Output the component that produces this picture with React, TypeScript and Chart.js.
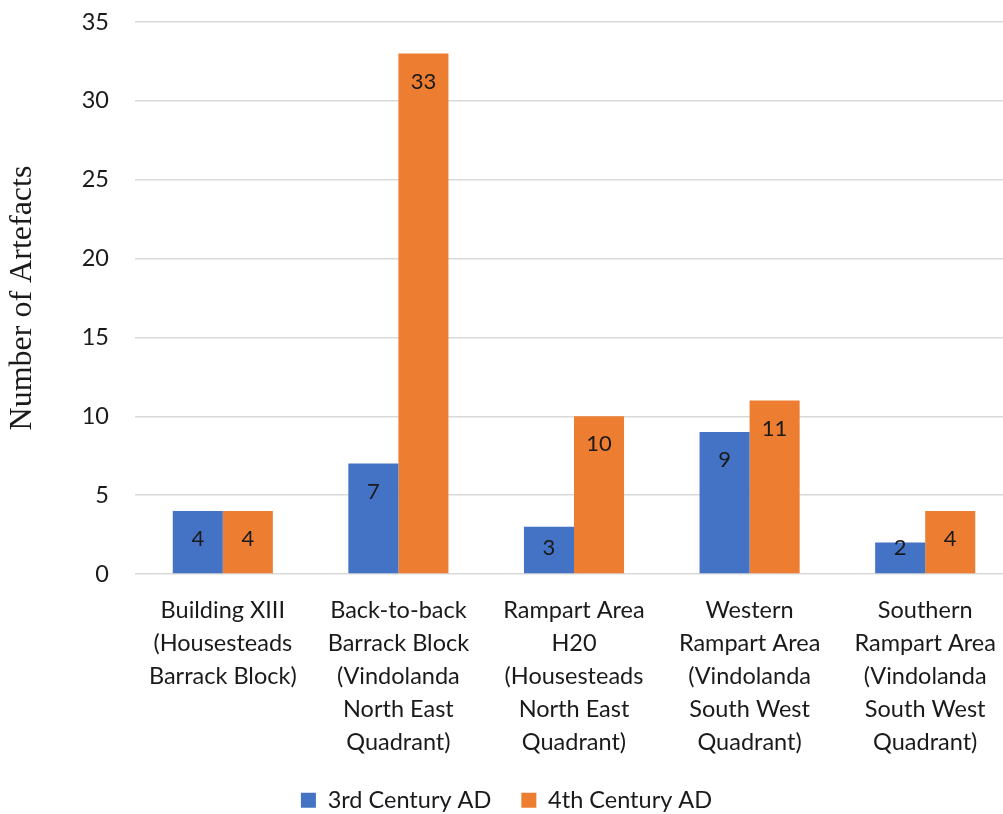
import React, { useEffect, useRef } from "react";
import { Chart, registerables } from "chart.js";

Chart.register(...registerables);

const categories: string[][] = [
  ["Building XIII", "(Housesteads", "Barrack Block)"],
  ["Back-to-back", "Barrack Block", "(Vindolanda", "North East", "Quadrant)"],
  ["Rampart Area", "H20", "(Housesteads", "North East", "Quadrant)"],
  ["Western", "Rampart Area", "(Vindolanda", "South West", "Quadrant)"],
  ["Southern", "Rampart Area", "(Vindolanda", "South West", "Quadrant)"],
];
const seriesNames = ["3rd Century AD", "4th Century AD"];
const thirdCentury = [4, 7, 3, 9, 2];
const fourthCentury = [4, 33, 10, 11, 4];
const yTicks = { min: 0, max: 35, step: 5 };

const SANS = "Lato, 'Noto Sans', sans-serif";
const TEXT = "#1a1a1a";

const labelPlugin = {
  id: "insideEndLabels",
  afterDatasetsDraw(chart: any) {
    const ctx = chart.ctx;
    ctx.save();
    ctx.font = `22px ${SANS}`;
    ctx.fillStyle = TEXT;
    ctx.textAlign = "center";
    ctx.textBaseline = "middle";
    chart.data.datasets.forEach((ds: any, di: number) => {
      const meta = chart.getDatasetMeta(di);
      meta.data.forEach((bar: any, i: number) => {
        const h = bar.base - bar.y;
        const off = Math.min(28, h - 25);
        ctx.fillText(String(ds.data[i]), bar.x, bar.y + off);
      });
    });
    ctx.restore();
  },
};

export default function App() {
  const ref = useRef<HTMLCanvasElement | null>(null);
  useEffect(() => {
    if (!ref.current) return;
    const chart = new Chart(ref.current, {
      type: "bar",
      data: {
        labels: categories,
        datasets: [
          { label: seriesNames[0], data: thirdCentury, backgroundColor: "#4472C4", borderWidth: 0 },
          { label: seriesNames[1], data: fourthCentury, backgroundColor: "#ED7D31", borderWidth: 0 },
        ],
      },
      options: {
        responsive: false,
        animation: false,
        layout: { padding: { top: 22, right: 0, left: 0, bottom: -8 } },
        datasets: { bar: { categoryPercentage: 0.57, barPercentage: 1 } } as any,
        plugins: {
          legend: {
            position: "bottom",
            labels: {
              boxWidth: 15,
              boxHeight: 15,
              padding: 30,
              color: TEXT,
              font: { family: SANS, size: 23.5 },
            },
          },
          tooltip: { enabled: false },
        },
        scales: {
          x: {
            grid: { display: false },
            border: { display: false },
            ticks: {
              color: TEXT,
              font: { family: SANS, size: 23.5, lineHeight: "33px" } as any,
              padding: 12,
              maxRotation: 0,
              autoSkip: false,
            },
            afterFit(scale: any) {
              scale.height = 184.5;
            },
          },
          y: {
            min: yTicks.min,
            max: yTicks.max,
            grid: { color: "#D9D9D9", lineWidth: 1.5, drawTicks: true, tickLength: 26, tickColor: "rgba(0,0,0,0)" },
            border: { display: false },
            ticks: {
              stepSize: yTicks.step,
              color: TEXT,
              padding: 0,
              font: { family: SANS, size: 23.5 },
            },
            title: {
              display: true,
              text: "Number of Artefacts",
              color: TEXT,
              padding: { top: 3, bottom: 0 },
              font: { family: "'Liberation Serif', 'Times New Roman', serif", size: 32, weight: "normal" },
            },
            afterFit(scale: any) {
              scale.width = 135;
            },
          },
        },
      },
      plugins: [labelPlugin],
    });
    return () => chart.destroy();
  }, []);
  return (
    <div style={{ position: "absolute", left: 0, top: 0, width: 1003, height: 814, overflow: "hidden", background: "#fff" }}>
      <canvas ref={ref} width={1013} height={814} style={{ display: "block" }} />
    </div>
  );
}
